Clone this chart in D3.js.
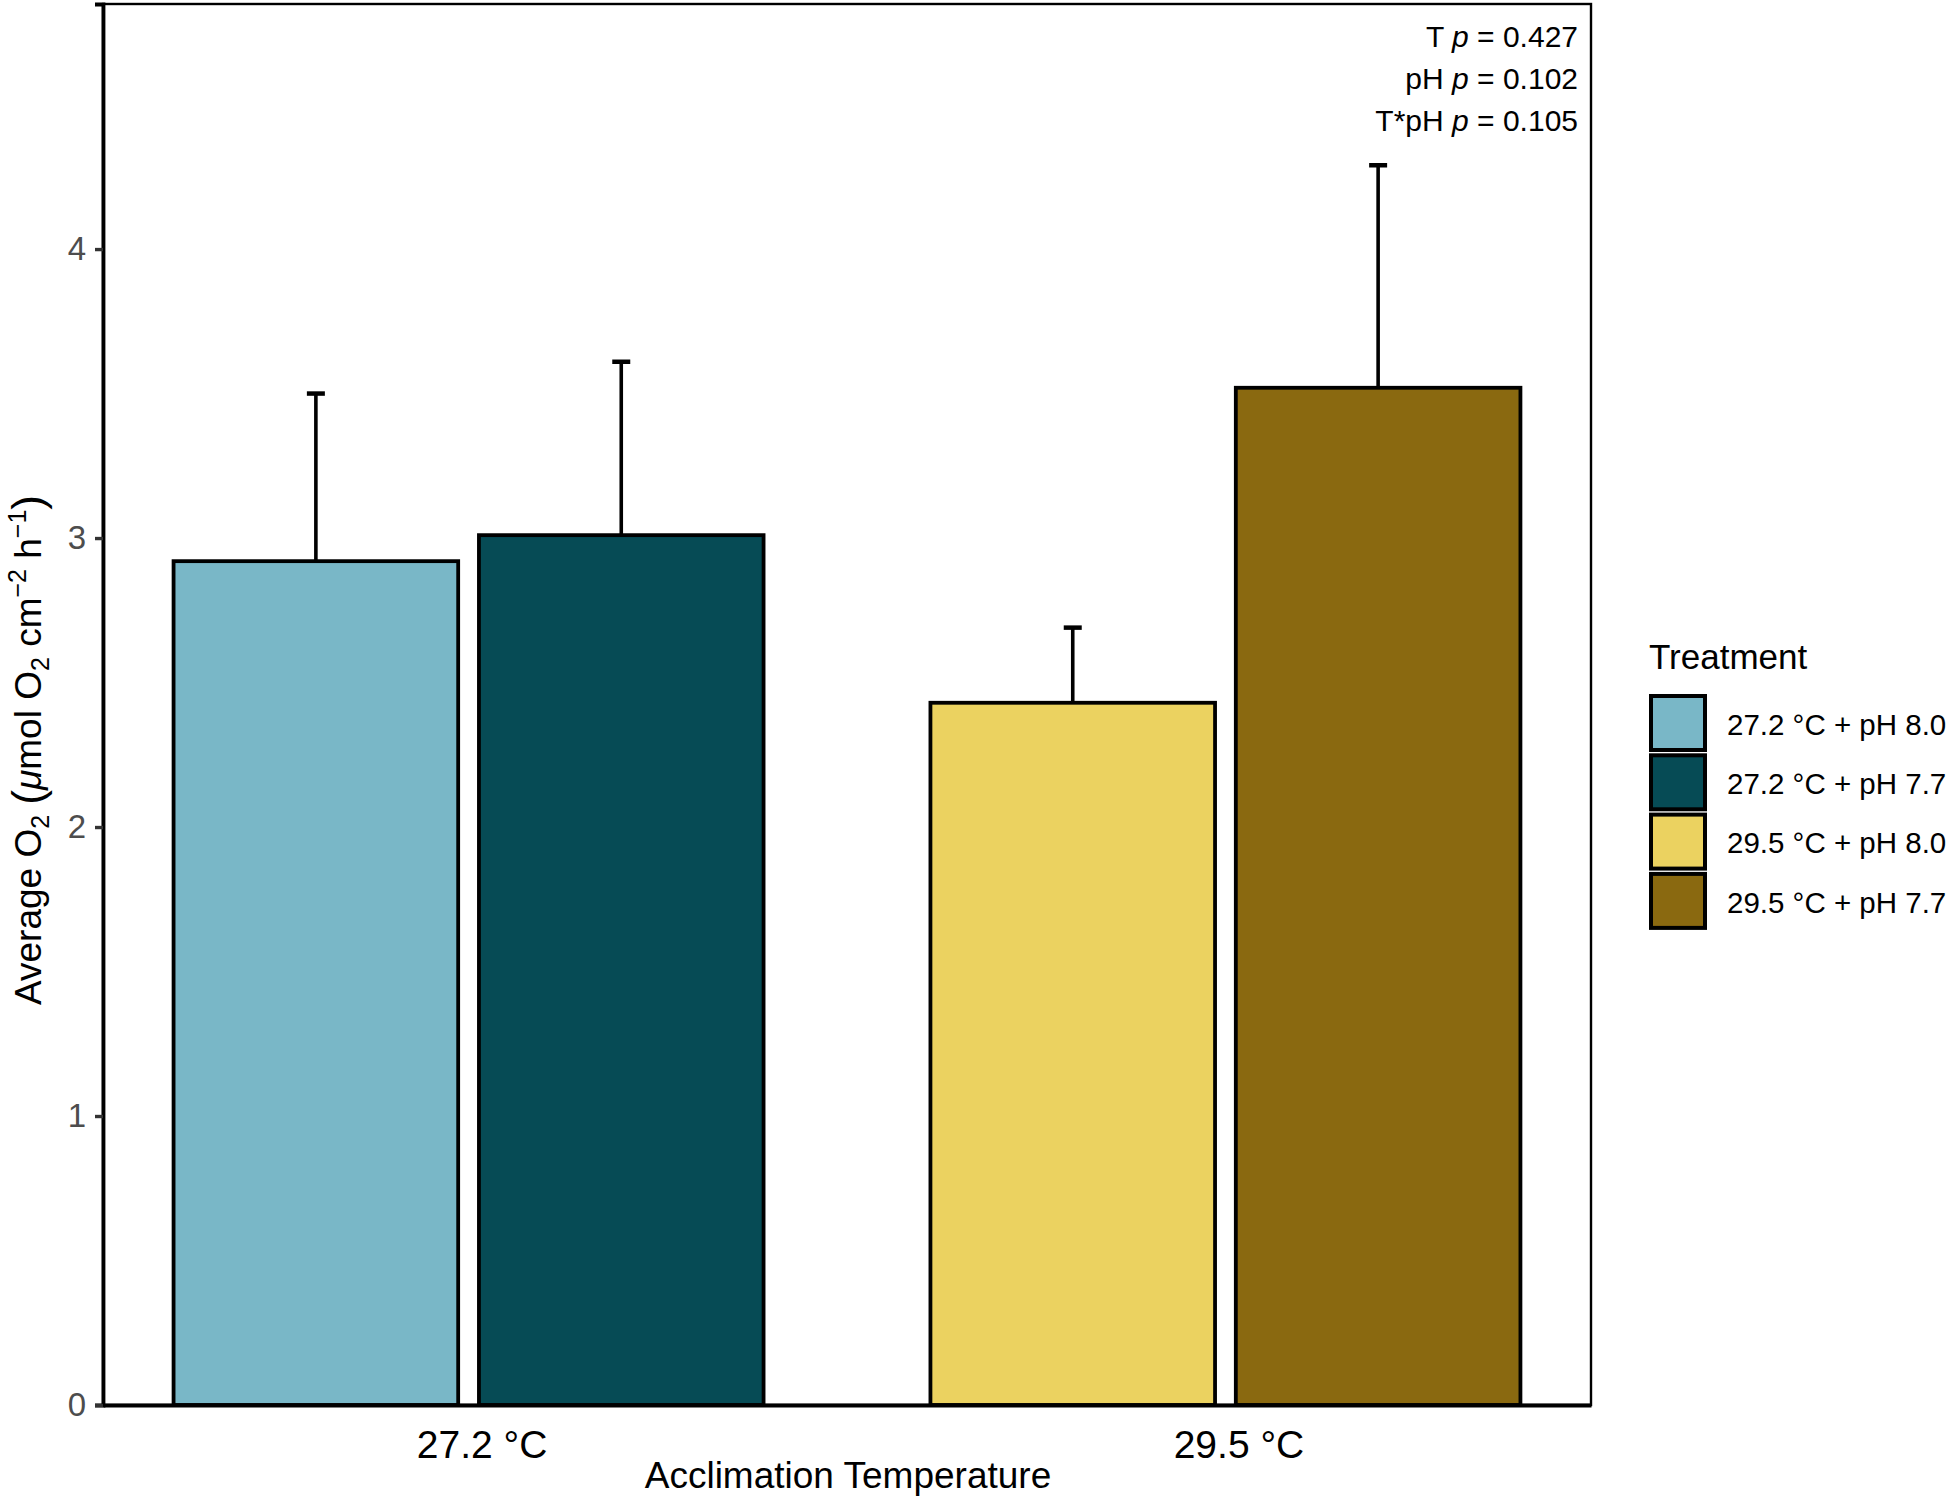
<!DOCTYPE html>
<html>
<head>
<meta charset="utf-8">
<script src="https://cdn.jsdelivr.net/npm/d3@7"></script>
<style>
  html, body { margin: 0; padding: 0; background: #fff; }
  svg { display: block; font-family: "Liberation Sans", Arial, Helvetica, sans-serif; }
</style>
</head>
<body>
<script>
// ---------------- data ----------------
const categories = ["27.2 °C", "29.5 °C"];
const phLevels = ["pH 8.0", "pH 7.7"];
const treatments = ["27.2 °C + pH 8.0", "27.2 °C + pH 7.7", "29.5 °C + pH 8.0", "29.5 °C + pH 7.7"];
const treatmentTemp = ["27.2 °C", "27.2 °C", "29.5 °C", "29.5 °C"];
const treatmentPH = ["pH 8.0", "pH 7.7", "pH 8.0", "pH 7.7"];
const meanO2 = [2.92, 3.01, 2.43, 3.52];
const seO2 = [0.58, 0.60, 0.26, 0.77];
const colors = ["#79b7c7", "#064b55", "#ebd260", "#8a6910"];
const yTicks = [0, 1, 2, 3, 4];
const statTerms = ["T", "pH", "T*pH"];
const statP = ["0.427", "0.102", "0.105"];

// ---------------- layout ----------------
const W = 1955, H = 1500;
const panel = { left: 103, right: 1591, top: 4, bottom: 1405 };

const svg = d3.select("body").append("svg").attr("width", W).attr("height", H);
svg.append("rect").attr("width", W).attr("height", H).attr("fill", "#fff");

const x = d3.scalePoint().domain(categories).range([panel.left, panel.right]).padding(0.483);
const inner = d3.scaleBand().domain(phLevels).range([-295, 295]).paddingInner(0.068);
const y = d3.scaleLinear().domain([0, 4.848]).range([panel.bottom, panel.top]);
const color = d3.scaleOrdinal().domain(treatments).range(colors);

const rows = treatments.map((t, i) => ({
  t, temp: treatmentTemp[i], ph: treatmentPH[i], m: meanO2[i], se: seO2[i]
}));

// error bars (upper only), drawn beneath bars
const eb = svg.append("g");
rows.forEach(d => {
  const cx = x(d.temp) + inner(d.ph) + inner.bandwidth() / 2;
  eb.append("line").attr("x1", cx).attr("x2", cx)
    .attr("y1", y(d.m)).attr("y2", y(d.m + d.se))
    .attr("stroke", "#000").attr("stroke-width", 3.6);
  eb.append("line").attr("x1", cx - 9).attr("x2", cx + 9)
    .attr("y1", y(d.m + d.se)).attr("y2", y(d.m + d.se))
    .attr("stroke", "#000").attr("stroke-width", 4.5);
});

// bars
svg.append("g").selectAll("rect").data(rows).join("rect")
  .attr("x", d => x(d.temp) + inner(d.ph))
  .attr("width", inner.bandwidth())
  .attr("y", d => y(d.m))
  .attr("height", d => y(0) - y(d.m))
  .attr("fill", d => color(d.t))
  .attr("stroke", "#000").attr("stroke-width", 3.8);

// panel border
svg.append("rect")
  .attr("x", panel.left).attr("y", panel.top)
  .attr("width", panel.right - panel.left).attr("height", panel.bottom - panel.top)
  .attr("fill", "none").attr("stroke", "#000").attr("stroke-width", 2.4);

// y axis
const yAxis = svg.append("g").attr("transform", `translate(${panel.left},0)`)
  .call(d3.axisLeft(y).tickValues(yTicks).tickFormat(d3.format("d")).tickSize(8).tickPadding(9));
yAxis.select(".domain").attr("stroke", "#000").attr("stroke-width", 3.8);
yAxis.selectAll(".tick line").attr("stroke", "#333").attr("stroke-width", 3.4);
yAxis.selectAll(".tick text").attr("fill", "#4d4d4d").attr("font-size", 33)
  .attr("font-family", "Liberation Sans, Arial, sans-serif");

// x axis
const xAxis = svg.append("g").attr("transform", `translate(0,${panel.bottom})`)
  .call(d3.axisBottom(x).tickSize(0).tickPadding(25));
xAxis.select(".domain").attr("stroke", "#000").attr("stroke-width", 3.8);
xAxis.selectAll(".tick text").attr("fill", "#000").attr("font-size", 39)
  .attr("dx", 13).attr("font-family", "Liberation Sans, Arial, sans-serif");

// x title
svg.append("text").attr("x", (panel.left + panel.right) / 2 + 1).attr("y", 1488)
  .attr("text-anchor", "middle").attr("font-size", 37).text("Acclimation Temperature");

// y title with sub/superscripts
const yt = svg.append("text")
  .attr("transform", "translate(41,750) rotate(-90)")
  .attr("text-anchor", "middle").attr("font-size", 37);
yt.append("tspan").text("Average O");
yt.append("tspan").attr("font-size", 25).attr("dy", 8).text("2");
yt.append("tspan").attr("dy", -8).text(" ");
yt.append("tspan").attr("font-size", 44).attr("dy", 2).text("(");
yt.append("tspan").attr("font-style", "italic").attr("dy", -2).text("μ");
yt.append("tspan").text("mol O");
yt.append("tspan").attr("font-size", 25).attr("dy", 8).text("2");
yt.append("tspan").attr("dy", -8).text(" cm");
yt.append("tspan").attr("font-size", 25).attr("dy", -15).text("−2");
yt.append("tspan").attr("dy", 15).text(" h");
yt.append("tspan").attr("font-size", 25).attr("dy", -15).text("−1");
yt.append("tspan").attr("dy", 17).attr("font-size", 44).text(")");

// stats annotation
const st = svg.append("g");
statTerms.forEach((term, i) => {
  const t = st.append("text").attr("x", 1578).attr("y", 47 + i * 42.2)
    .attr("text-anchor", "end").attr("font-size", 30).attr("fill", "#000");
  t.append("tspan").text(term + " ");
  t.append("tspan").attr("font-style", "italic").text("p");
  t.append("tspan").text(" = " + statP[i]);
});

// legend
const lg = svg.append("g");
lg.append("text").attr("x", 1649).attr("y", 669).attr("font-size", 35).text("Treatment");
const keyTop = 694.5, keyStep = 59.3, keySize = 57;
treatments.forEach((t, i) => {
  lg.append("rect")
    .attr("x", 1651).attr("y", keyTop + i * keyStep + 1.5)
    .attr("width", keySize - 3).attr("height", keySize - 3)
    .attr("fill", color(t)).attr("stroke", "#000").attr("stroke-width", 4);
  lg.append("text").attr("x", 1727).attr("y", keyTop + i * keyStep + keySize / 2 + 1)
    .attr("dy", "0.36em").attr("font-size", 29.5).text(t);
});
</script>
</body>
</html>
